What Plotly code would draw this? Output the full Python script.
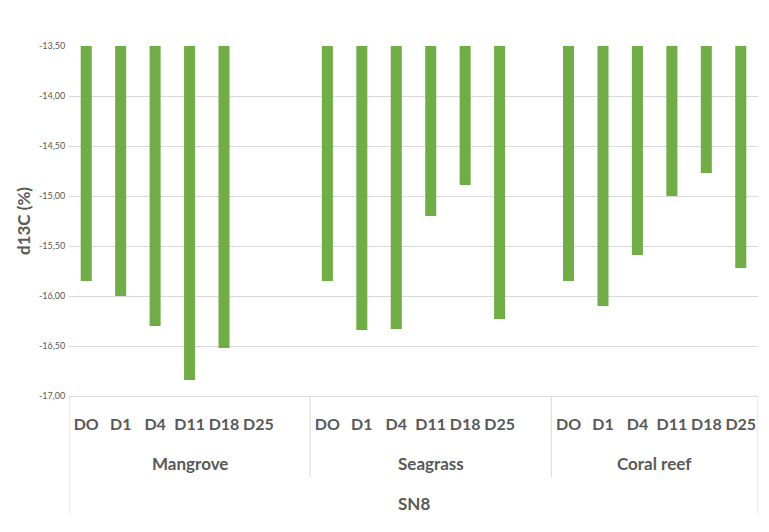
import plotly.graph_objects as go

# Sampling days and habitat groups
days = ["DO", "D1", "D4", "D11", "D18", "D25"]
groups = ["Mangrove", "Seagrass", "Coral reef"]
site = "SN8"

# d13C values per habitat (None = no measurement)
mangrove = [-15.85, -16.00, -16.30, -16.84, -16.52, None]
seagrass = [-15.85, -16.34, -16.33, -15.20, -14.89, -16.23]
coral_reef = [-15.85, -16.10, -15.59, -15.00, -14.77, -15.72]

y_ticks = [-13.5, -14.0, -14.5, -15.0, -15.5, -16.0, -16.5, -17.0]
y_tick_labels = ["-13,50", "-14,00", "-14,50", "-15,00", "-15,50", "-16,00", "-16,50", "-17,00"]

series = [mangrove, seagrass, coral_reef]
slots_per_group = len(days) + 1  # one empty slot separates the groups

xs, ys, tickvals, ticktext = [], [], [], []
for gi, vals in enumerate(series):
    for di, d in enumerate(days):
        pos = gi * slots_per_group + di
        xs.append(pos)
        ys.append(vals[di])
        tickvals.append(pos)
        ticktext.append(f"<b>{d}</b>")

n_slots = slots_per_group * len(groups) - 1
x_lo, x_hi = -0.5, n_slots - 0.5

GREEN = "#70AD47"
TXT = "#595959"
GRID = "#D9D9D9"
FONT = "Lato"

fig = go.Figure(
    go.Bar(x=xs, y=ys, width=0.32, marker=dict(color=GREEN, line=dict(width=0)))
)

plot_h = 532 - 46 - 136

# outer borders of the category area plus separators between the groups
separators = [(x_lo, 119), (x_hi, 119)]
for gi in range(len(groups) - 1):
    separators.append((gi * slots_per_group + len(days) + 0.5, 81))

shapes = [
    dict(type="line", xref="x", yref="paper", x0=xv, x1=xv,
         y0=0, y1=-depth / plot_h, line=dict(color=GRID, width=1))
    for xv, depth in separators
]

annotations = []
for gi, g in enumerate(groups):
    if gi < len(groups) - 1:
        center = gi * slots_per_group + (slots_per_group - 1) / 2
    else:
        center = gi * slots_per_group + (len(days) - 1) / 2
    annotations.append(dict(x=center, y=0, xref="x", yref="paper", text=f"<b>{g}</b>",
                            showarrow=False, yanchor="middle", yshift=-67,
                            font=dict(family=FONT, size=17, color=TXT)))
annotations.append(dict(x=(x_lo + x_hi) / 2, y=0, xref="x", yref="paper", text=f"<b>{site}</b>",
                        showarrow=False, yanchor="middle", yshift=-107,
                        font=dict(family=FONT, size=17, color=TXT)))

fig.update_layout(
    width=769, height=532,
    margin=dict(l=69, r=10.5, t=46, b=136),
    paper_bgcolor="white", plot_bgcolor="white",
    showlegend=False,
    shapes=shapes,
    annotations=annotations,
    xaxis=dict(range=[x_lo, x_hi], tickvals=tickvals, ticktext=ticktext,
               showgrid=False, zeroline=False, showline=True, linecolor=GRID,
               ticks="outside", ticklen=14, tickcolor="rgba(0,0,0,0)",
               tickfont=dict(family=FONT, size=16, color=TXT)),
    yaxis=dict(range=[-17, -13.5], tickvals=y_ticks, ticktext=y_tick_labels,
               showgrid=True, gridcolor=GRID, gridwidth=1, zeroline=False,
               ticks="outside", ticklen=1, tickcolor="rgba(0,0,0,0)",
               tickfont=dict(family=FONT, size=9, color=TXT),
               title=dict(text="<b>d13C (%)</b>", standoff=3,
                          font=dict(family=FONT, size=17, color=TXT))),
)

fig.write_html("out.html")
